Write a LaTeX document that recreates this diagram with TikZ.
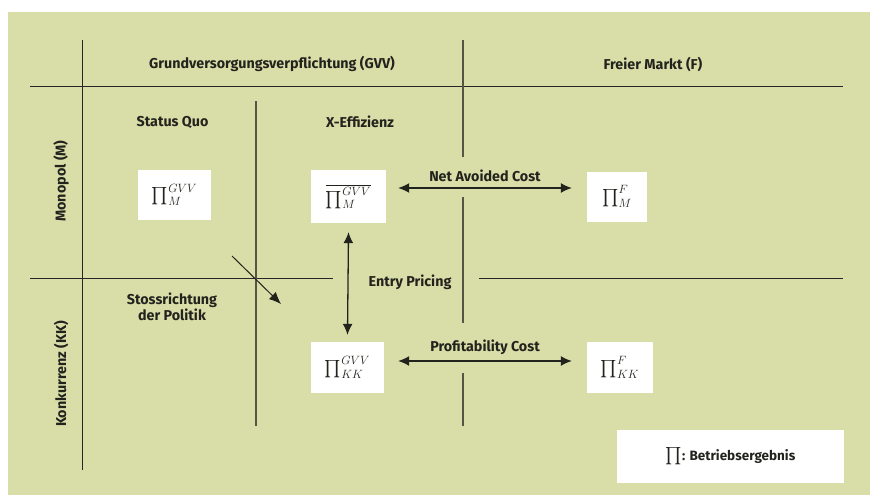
\documentclass[tikz,border=0pt]{standalone}
\usepackage{amsmath}
\usepackage{fontspec}
\setmainfont{Fira Sans}
\usetikzlibrary{arrows.meta}
\definecolor{bgreen}{RGB}{217,222,168}
\definecolor{lgrid}{RGB}{85,85,70}
\definecolor{txt}{RGB}{35,35,30}
\newcommand{\gewinn}[2]{$\prod\nolimits_{#1}^{#2}$}
\begin{document}
\begin{tikzpicture}[x=1pt,y=-1pt,
  lbl/.style = {font=\bfseries\fontsize{14.3}{16}\selectfont, text=txt, inner sep=1pt},
  pibox/.style = {fill=white, inner sep=0pt, minimum height=50pt,
    font=\fontsize{17}{19}\selectfont, text=txt},
  grid/.style = {line width=1.3pt, draw=lgrid},
  outer/.style = {line width=1pt, draw=black!85},
  dbl/.style = {line width=1.3pt, draw=txt, {Latex[length=11pt,width=10pt]}-{Latex[length=11pt,width=10pt]}},
  sgl/.style = {line width=1pt, draw=txt, -{Latex[length=12pt,width=10pt]}}]
  \useasboundingbox (0,0) rectangle (870,495);
  \fill[white] (0,0) rectangle (870,495);
  \fill[bgreen] (8,12) rectangle (870,495);

  % raster
  \draw[outer] (82,40) -- (82,470);
  \draw[outer] (30,86) -- (843,86);
  \draw[outer] (30,278) -- (333,278);
  \draw[outer] (479,278) -- (843,278);
  \draw[grid] (256,101) -- (256,426);
  \draw[grid] (463,40) -- (463,157);
  \draw[grid] (463,197) -- (463,323);
  \draw[grid] (463,373) -- (463,426);

  % Kopfzeilen
  \node[lbl] (gvv) at (272,64) {Grundversorgungsverpflichtung (GVV)};
  \node[lbl] (frei) at (653,64) {Freier Markt (F)};
  \node[lbl] (sq) at (172.5,122) {Status Quo};
  \node[lbl] (xeffl) at (360,122) {X-Effizienz};
  \node[lbl, rotate=90] (mono) at (61,181) {Monopol (M)};
  \node[lbl, rotate=90] (konk) at (61,374) {Konkurrenz (KK)};

  % Ergebnisse
  \node[pibox, minimum width=73pt] (mgvv) at (174.5,195) {\gewinn{M}{GVV}};
  \node[pibox, minimum width=75pt, minimum height=53pt] (xeff) at (348.5,196.5)
    {$\overline{\prod\nolimits_{M}^{GVV}}$};
  \node[pibox, minimum width=60pt] (mf) at (617,196.5) {\gewinn{M}{F}};
  \node[pibox, minimum width=73pt, minimum height=51pt] (kkgvv) at (347.5,367.5) {\gewinn{KK}{GVV}};
  \node[pibox, minimum width=66pt, minimum height=51pt] (kkf) at (620,367.5) {\gewinn{KK}{F}};

  % Pfeile
  \draw[dbl] ([xshift=12pt,yshift=8.5pt]xeff.east) -- ([xshift=-15pt,yshift=8.5pt]mf.west)
    node[lbl, midway, above=5pt] (nac) {Net Avoided Cost};
  \draw[dbl] ([xshift=14pt,yshift=6.5pt]kkgvv.east) -- ([xshift=-15pt,yshift=6.5pt]kkf.west)
    node[lbl, midway, above=5pt] (pc) {Profitability Cost};
  \draw[dbl] ([yshift=-9pt]xeff.south) -- ([yshift=7pt]kkgvv.north);
  \node[lbl] (entry) at (410,282) {Entry Pricing};

  \coordinate (stossA) at (232,256);
  \coordinate (stossB) at (281,304);
  \draw[sgl] (stossA) -- (stossB);
  \node[lbl, align=center] (stoss) at (172,307) {Stossrichtung\\der Politik};

  % Legende
  \node[fill=white, minimum width=227pt, minimum height=53pt, text=txt] (leg) at (730.5,456.5)
    {\fontsize{16}{18}\selectfont$\prod$\bfseries\fontsize{13.5}{15}\selectfont: Betriebsergebnis};
\end{tikzpicture}
\end{document}
